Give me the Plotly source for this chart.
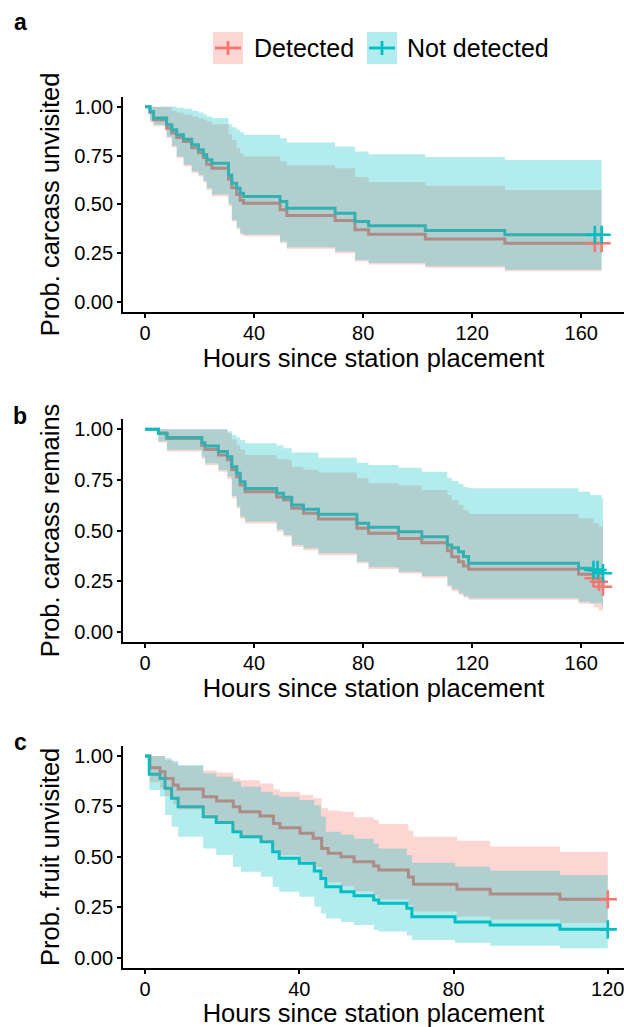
import plotly.graph_objects as go

RED = "#F8766D"
CYAN = "#00BFC4"
RED_FILL = "rgba(248,118,109,0.3)"
CYAN_FILL = "rgba(0,191,196,0.3)"
FONT = "Liberation Sans, Arial, sans-serif"

groups = ["Detected", "Not detected"]

# ---------------- Panel a : carcass unvisited ----------------
a_det_time = [0, 1.8, 3.1, 7.9, 9.8, 11.6, 14.1, 17.1, 19.6, 21.4, 22.6, 24.5, 30.6, 31.8, 33.6, 34.9, 36.1, 49.5, 52.0, 69.7, 77.0, 82.0, 102.8, 132.0]
a_det_surv = [1.0, 0.97, 0.933, 0.89, 0.865, 0.843, 0.822, 0.79, 0.765, 0.74, 0.705, 0.685, 0.63, 0.585, 0.55, 0.52, 0.505, 0.472, 0.443, 0.417, 0.37, 0.347, 0.323, 0.301]
a_det_upper = [1, 1, 1, 1, 0.98, 0.97, 0.96, 0.95, 0.94, 0.935, 0.925, 0.91, 0.86, 0.83, 0.79, 0.76, 0.745, 0.72, 0.70, 0.685, 0.64, 0.614, 0.595, 0.574]
a_det_lower = [1, 0.92, 0.9, 0.84, 0.792, 0.737, 0.695, 0.662, 0.643, 0.612, 0.575, 0.542, 0.492, 0.412, 0.372, 0.344, 0.336, 0.302, 0.272, 0.25, 0.207, 0.192, 0.175, 0.157]
a_det_end = 167.5
a_det_censor = [165, 167.5]

a_nd_time = [0, 1.8, 3.1, 7.9, 9.8, 11.6, 14.1, 17.1, 19.6, 21.4, 22.6, 24.5, 30.6, 31.8, 33.6, 34.9, 36.1, 49.5, 52.0, 69.7, 77.0, 82.0, 102.8, 132.0]
a_nd_surv = [1.0, 0.976, 0.942, 0.908, 0.882, 0.856, 0.834, 0.805, 0.78, 0.754, 0.728, 0.711, 0.651, 0.608, 0.583, 0.557, 0.54, 0.515, 0.48, 0.455, 0.412, 0.39, 0.366, 0.344]
a_nd_upper = [1, 1, 1, 1, 1, 0.995, 0.99, 0.98, 0.97, 0.96, 0.95, 0.942, 0.91, 0.895, 0.882, 0.87, 0.856, 0.839, 0.817, 0.797, 0.771, 0.757, 0.742, 0.727]
a_nd_lower = [1, 0.93, 0.908, 0.848, 0.8, 0.745, 0.703, 0.67, 0.651, 0.62, 0.583, 0.55, 0.50, 0.42, 0.38, 0.352, 0.344, 0.31, 0.28, 0.258, 0.215, 0.2, 0.183, 0.165]
a_nd_end = 167.5
a_nd_censor = [165, 167.5]

# ---------------- Panel b : carcass remains ----------------
b_det_time = [0, 4.9, 8.0, 20.8, 22.0, 26.9, 30.2, 31.8, 33.6, 34.9, 36.7, 48.3, 50.8, 53.8, 58.1, 63.6, 77.7, 82.0, 93.0, 101.5, 110.9, 112.5, 115.0, 116.8, 118.7, 159.0, 164.5, 166.5, 168.0]
b_det_surv = [1.0, 0.98, 0.955, 0.92, 0.9, 0.873, 0.85, 0.80, 0.765, 0.725, 0.691, 0.665, 0.651, 0.61, 0.585, 0.557, 0.511, 0.486, 0.461, 0.44, 0.40, 0.37, 0.345, 0.325, 0.308, 0.284, 0.264, 0.247, 0.222]
b_det_upper = [1, 1, 1, 1, 1, 1, 0.98, 0.95, 0.92, 0.9, 0.873, 0.853, 0.85, 0.815, 0.80, 0.786, 0.758, 0.733, 0.722, 0.70, 0.675, 0.65, 0.625, 0.6, 0.581, 0.56, 0.536, 0.52, 0.5]
b_det_lower = [1, 0.935, 0.89, 0.855, 0.822, 0.79, 0.755, 0.66, 0.61, 0.558, 0.534, 0.495, 0.47, 0.42, 0.403, 0.378, 0.338, 0.31, 0.288, 0.267, 0.222, 0.2, 0.182, 0.168, 0.158, 0.138, 0.12, 0.105, 0.09]
b_det_end = 168.0
b_det_censor = [164.5, 166.5, 168.0]

b_nd_time = [0, 4.9, 8.0, 20.8, 22.0, 26.9, 30.2, 31.8, 33.6, 34.9, 36.7, 48.3, 50.8, 53.8, 58.1, 63.6, 77.7, 82.0, 93.0, 101.5, 110.9, 112.5, 115.0, 116.8, 118.7, 159.0, 163.3, 167.5]
b_nd_surv = [1.0, 0.98, 0.96, 0.934, 0.917, 0.89, 0.865, 0.815, 0.783, 0.741, 0.708, 0.684, 0.664, 0.626, 0.605, 0.58, 0.536, 0.516, 0.494, 0.469, 0.428, 0.415, 0.395, 0.371, 0.338, 0.313, 0.305, 0.289]
b_nd_upper = [1, 1, 1, 1, 1, 1, 0.99, 0.972, 0.96, 0.947, 0.931, 0.92, 0.906, 0.886, 0.886, 0.86, 0.835, 0.824, 0.81, 0.79, 0.76, 0.745, 0.73, 0.715, 0.709, 0.692, 0.675, 0.66]
b_nd_lower = [1, 0.94, 0.898, 0.865, 0.832, 0.799, 0.766, 0.67, 0.62, 0.568, 0.544, 0.505, 0.478, 0.428, 0.412, 0.387, 0.346, 0.318, 0.296, 0.275, 0.23, 0.21, 0.19, 0.176, 0.165, 0.148, 0.14, 0.128]
b_nd_end = 168.0
b_nd_censor = [164.5, 166.0, 168.0]

# ---------------- Panel c : fruit unvisited ----------------
c_det_time = [0, 1.3, 3.9, 5.2, 7.3, 8.6, 15.1, 18.6, 22.9, 24.6, 29.8, 33.3, 35.0, 40.2, 43.6, 45.8, 47.5, 50.8, 54.2, 59.3, 60.6, 68.3, 69.6, 80.9, 89.5, 107.6]
c_det_surv = [1.0, 0.942, 0.922, 0.889, 0.856, 0.836, 0.798, 0.777, 0.749, 0.724, 0.703, 0.666, 0.645, 0.617, 0.592, 0.542, 0.518, 0.501, 0.476, 0.455, 0.435, 0.40, 0.365, 0.34, 0.316, 0.29]
c_det_upper = [1, 1, 1, 0.98, 0.965, 0.95, 0.928, 0.918, 0.889, 0.88, 0.864, 0.835, 0.823, 0.807, 0.79, 0.741, 0.729, 0.724, 0.696, 0.683, 0.663, 0.63, 0.60, 0.58, 0.551, 0.526]
c_det_lower = [1, 0.87, 0.84, 0.80, 0.76, 0.735, 0.69, 0.665, 0.63, 0.60, 0.575, 0.535, 0.51, 0.48, 0.45, 0.40, 0.375, 0.355, 0.33, 0.31, 0.29, 0.26, 0.23, 0.205, 0.19, 0.172]
c_det_end = 120.0
c_det_censor = [120.0]

c_nd_time = [0, 1.1, 3.9, 5.2, 6.9, 8.6, 15.1, 18.5, 22.8, 24.9, 30.1, 33.1, 34.8, 40.0, 43.9, 45.6, 46.9, 50.8, 54.2, 59.3, 60.6, 67.9, 69.2, 80.4, 89.5, 107.6]
c_nd_surv = [1.0, 0.909, 0.889, 0.84, 0.79, 0.749, 0.699, 0.671, 0.625, 0.6, 0.575, 0.526, 0.493, 0.468, 0.43, 0.393, 0.352, 0.327, 0.307, 0.286, 0.27, 0.245, 0.203, 0.178, 0.162, 0.141]
c_nd_upper = [1, 1, 1, 0.99, 0.975, 0.955, 0.914, 0.898, 0.873, 0.848, 0.823, 0.807, 0.798, 0.782, 0.755, 0.70, 0.625, 0.61, 0.59, 0.567, 0.542, 0.51, 0.471, 0.451, 0.431, 0.41]
c_nd_lower = [1, 0.832, 0.799, 0.708, 0.65, 0.6, 0.542, 0.509, 0.451, 0.427, 0.402, 0.352, 0.327, 0.302, 0.253, 0.22, 0.195, 0.178, 0.162, 0.138, 0.13, 0.11, 0.088, 0.075, 0.06, 0.047]
c_nd_end = 120.0
c_nd_censor = [120.0]

y_titles = ["Prob. carcass unvisited", "Prob. carcass remains", "Prob. fruit unvisited"]
x_title = "Hours since station placement"
panel_letters = ["a", "b", "c"]
y_ticks = [0, 0.25, 0.5, 0.75, 1.0]
x_ticks_ab = [0, 40, 80, 120, 160]
x_ticks_c = [0, 40, 80, 120]


def step_ribbon(t, up, lo, end):
    xs, ys = [], []
    n = len(t)
    for i in range(n):
        tn = t[i + 1] if i + 1 < n else end
        xs += [t[i], tn]
        ys += [up[i], up[i]]
    for i in reversed(range(n)):
        tn = t[i + 1] if i + 1 < n else end
        xs += [tn, t[i]]
        ys += [lo[i], lo[i]]
    return xs, ys


def surv_at(t, s, x):
    v = s[0]
    for ti, si in zip(t, s):
        if ti <= x:
            v = si
    return v


panels = [
    (
        (a_det_time, a_det_surv, a_det_upper, a_det_lower, a_det_end, a_det_censor),
        (a_nd_time, a_nd_surv, a_nd_upper, a_nd_lower, a_nd_end, a_nd_censor),
    ),
    (
        (b_det_time, b_det_surv, b_det_upper, b_det_lower, b_det_end, b_det_censor),
        (b_nd_time, b_nd_surv, b_nd_upper, b_nd_lower, b_nd_end, b_nd_censor),
    ),
    (
        (c_det_time, c_det_surv, c_det_upper, c_det_lower, c_det_end, c_det_censor),
        (c_nd_time, c_nd_surv, c_nd_upper, c_nd_lower, c_nd_end, c_nd_censor),
    ),
]
colors = [RED, CYAN]
fills = [RED_FILL, CYAN_FILL]

fig = go.Figure()

for p, series in enumerate(panels):
    xa = "x" if p == 0 else f"x{p + 1}"
    ya = "y" if p == 0 else f"y{p + 1}"
    # step lines (underneath ribbons, as in the original)
    for g, (t, s, up, lo, end, cens) in enumerate(series):
        fig.add_trace(go.Scatter(
            x=list(t) + [end], y=list(s) + [s[-1]], mode="lines",
            line=dict(color=colors[g], width=3, shape="hv"),
            name=groups[g], showlegend=False, xaxis=xa, yaxis=ya))
    # confidence ribbons
    for g, (t, s, up, lo, end, cens) in enumerate(series):
        rx, ry = step_ribbon(t, up, lo, end)
        fig.add_trace(go.Scatter(
            x=rx, y=ry, mode="lines", fill="toself", fillcolor=fills[g],
            line=dict(width=0, color=fills[g]), hoverinfo="skip",
            name=groups[g] + " CI", showlegend=False, xaxis=xa, yaxis=ya))
    # censoring marks
    for g, (t, s, up, lo, end, cens) in enumerate(series):
        fig.add_trace(go.Scatter(
            x=cens, y=[surv_at(t, s, c) for c in cens], mode="markers",
            marker=dict(symbol="cross-thin", size=13,
                        line=dict(color=colors[g], width=2.6)),
            name=groups[g] + " censored", showlegend=False, xaxis=xa, yaxis=ya))

H = 1027.0
W = 624.0
ML, MR, MT, MB = 123, 0, 0, 59
PW = W - ML - MR
PH = H - MT - MB


def px_x(px):
    return (px - ML) / PW


def px_y(py):
    return 1 - (py - MT) / PH


# plot-area pixel extents (top, bottom) of each panel
panel_px = [(97.0, 311.7), (419.2, 641.8), (745.9, 967.9)]
x_ranges = [[-8.1, 175.7], [-8.1, 175.7], [-5.7, 124.2]]

axis_common = dict(
    showline=True, linecolor="black", linewidth=1.8,
    ticks="outside", ticklen=4, tickwidth=1.8, tickcolor="black",
    showgrid=False, zeroline=False, automargin=False,
    ticklabeloverflow="allow",
    tickfont=dict(family=FONT, size=20, color="black"),
)

for p in range(3):
    top, bot = panel_px[p]
    xkey = "xaxis" if p == 0 else f"xaxis{p + 1}"
    ykey = "yaxis" if p == 0 else f"yaxis{p + 1}"
    yanchor = "y" if p == 0 else f"y{p + 1}"
    xanchor = "x" if p == 0 else f"x{p + 1}"
    fig.layout[xkey] = dict(
        axis_common, domain=[0, 1], anchor=yanchor, range=x_ranges[p],
        tickvals=x_ticks_c if p == 2 else x_ticks_ab,
        ticklabelstandoff=-2,
        title=dict(text=x_title, font=dict(family=FONT, size=25.5, color="black"), standoff=1),
    )
    fig.layout[ykey] = dict(
        axis_common, domain=[max(0.0, px_y(bot)), min(1.0, px_y(top))], anchor=xanchor,
        range=[-0.05, 1.05], tickvals=y_ticks, tickformat=".2f",
        title=dict(text=y_titles[p], font=dict(family=FONT, size=25.5, color="black"), standoff=7),
    )

# panel letters
letter_px = [(20, 22), (20, 416), (20, 742)]
annotations = []
for p, (lx, ly) in enumerate(letter_px):
    annotations.append(dict(
        text="<b>" + panel_letters[p] + "</b>", xref="paper", yref="paper",
        x=px_x(lx), y=px_y(ly), xanchor="center", yanchor="middle",
        showarrow=False, font=dict(family=FONT, size=23, color="black")))

# legend (drawn as keys + text at top)
shapes = []
key_boxes = [(213, 243), (367, 397)]
key_top, key_bot = 32, 64
label_x = [252, 405]
for g in range(2):
    x0, x1 = key_boxes[g]
    shapes.append(dict(type="rect", xref="paper", yref="paper",
                       x0=px_x(x0), x1=px_x(x1),
                       y0=px_y(key_bot), y1=px_y(key_top),
                       fillcolor=fills[g], line=dict(width=0)))
    cx = (x0 + x1) / 2.0
    cy = (key_top + key_bot) / 2.0
    shapes.append(dict(type="line", xref="paper", yref="paper",
                       x0=px_x(x0 + 2), x1=px_x(x1 - 2),
                       y0=px_y(cy), y1=px_y(cy),
                       line=dict(color=colors[g], width=2.8)))
    shapes.append(dict(type="line", xref="paper", yref="paper",
                       x0=px_x(cx), x1=px_x(cx),
                       y0=px_y(cy + 7), y1=px_y(cy - 7),
                       line=dict(color=colors[g], width=2.8)))
    annotations.append(dict(
        text=groups[g], xref="paper", yref="paper",
        x=px_x(label_x[g]), y=px_y(cy), xanchor="left", yanchor="middle",
        showarrow=False, font=dict(family=FONT, size=25, color="black")))

fig.update_layout(
    width=624, height=1027,
    margin=dict(l=ML, r=MR, t=MT, b=MB, pad=0, autoexpand=False),
    paper_bgcolor="white", plot_bgcolor="white",
    showlegend=False,
    annotations=annotations, shapes=shapes,
    font=dict(family=FONT, color="black"),
)

fig.write_html(
    "out.html",
    config={"displayModeBar": False},
    post_script="document.body.style.margin='0px';document.body.style.overflow='hidden';",
)
